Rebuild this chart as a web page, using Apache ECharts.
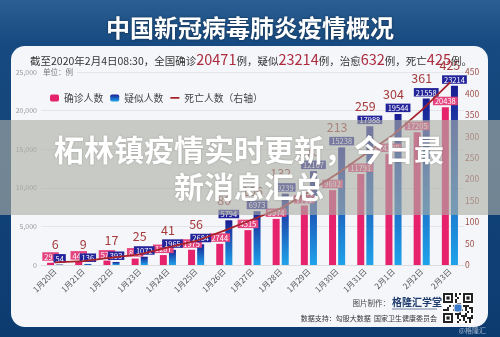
<!DOCTYPE html>
<html><head><meta charset="utf-8">
<script src="https://cdn.jsdelivr.net/npm/echarts@6/dist/echarts.min.js"></script>
<style>html,body{margin:0;padding:0;background:#0d3c71}#c{width:500px;height:337px}</style>
</head><body><div id="c"></div>
<script>
const categories = ['1月20日','1月21日','1月22日','1月23日','1月24日','1月25日','1月26日','1月27日','1月28日','1月29日','1月30日','1月31日','2月1日','2月2日','2月3日'];
const confirmed = [291,440,571,830,1287,1975,2744,4515,5974,7711,9692,11791,14380,17205,20438];
const suspected = [54,136,393,1072,1965,2684,5794,6973,9239,12167,15238,17988,19544,21558,23214];
const deaths = [6,9,17,25,41,56,80,106,132,170,213,259,304,361,425];
const seriesNames = ['确诊人数','疑似人数','死亡人数（右轴）'];
const leftAxisRange = {min:0, max:25000, interval:5000};
const rightAxisRange = {min:0, max:450, interval:50};
const titleText = '中国新冠病毒肺炎疫情概况';
const subtitleRich = '{n|截至2020年2月4日08:30，全国确诊}{r|20471}{n|例，疑似}{r|23214}{n|例，治愈}{r|632}{n|例，死亡}{r|425}{n|例。}';
const overlayLines = ['柘林镇疫情实时更新，今日最','新消息汇总'];
const unitText = '单位：例';
const creditMaker = '图片制作：';
const creditBrand = '格隆汇学堂';
const creditData = '数据支持：勾股大数据  国家卫生健康委员会';
const watermark = '@格隆汇';

const FF = '"Noto Sans CJK SC","Noto Sans",sans-serif';
const chart = echarts.init(document.getElementById('c'), null, {renderer:'canvas'});

// QR-like decoration
function qrGroup(x0, y0, size){
  const cells = 15, c = size / cells, kids = [];
  kids.push({type:'rect', shape:{x:x0-1,y:y0-1,width:size+2,height:size+2}, style:{fill:'#fff'}, z:5});
  const finder = (fx,fy)=>{
    kids.push({type:'rect', shape:{x:x0+fx*c,y:y0+fy*c,width:5*c,height:5*c}, style:{fill:'#222'}, z:6});
    kids.push({type:'rect', shape:{x:x0+(fx+1)*c,y:y0+(fy+1)*c,width:3*c,height:3*c}, style:{fill:'#fff'}, z:7});
    kids.push({type:'rect', shape:{x:x0+(fx+1.7)*c,y:y0+(fy+1.7)*c,width:1.6*c,height:1.6*c}, style:{fill:'#222'}, z:8});
  };
  finder(0,0); finder(10,0); finder(0,10);
  const pat = 'a7c3e19b5d2f8460';
  for(let r=0;r<cells;r++){for(let q=0;q<cells;q++){
    if((r<6&&q<6)||(r<6&&q>8)||(r>8&&q<6)) continue;
    const v = parseInt(pat[(r*7+q*3)%16],16);
    if(((v>>((r+q)%4))&1)===1) kids.push({type:'rect', shape:{x:x0+q*c,y:y0+r*c,width:c,height:c}, style:{fill:'#222'}, z:6});
  }}
  kids.push({type:'rect', shape:{x:x0+size/2-4,y:y0+size/2-4,width:8,height:8,r:2}, style:{fill:'#3a78c8',stroke:'#fff',lineWidth:1}, z:9});
  return kids;
}

const graphics = [
  {type:'rect', shape:{x:0,y:0,width:500,height:337}, z:-10,
   style:{fill:new echarts.graphic.LinearGradient(0,0,0,1,[{offset:0,color:'#2b5f93'},{offset:0.13,color:'#174a80'},{offset:1,color:'#0c3b70'}])}},
  {type:'rect', shape:{x:11,y:46,width:477,height:281,r:14}, z:-9, style:{fill:'#f4f6fa'}},
  {type:'text', z:10, style:{x:250,y:28,text:titleText,fill:'#fff',font:'bold 24px '+FF,align:'center',verticalAlign:'middle',textAlign:'center',textVerticalAlign:'middle',textShadowColor:'rgba(0,0,0,0.45)',textShadowBlur:3}},
  {type:'text', z:10, style:{x:251,y:59,text:subtitleRich,align:'center',verticalAlign:'middle',textAlign:'center',textVerticalAlign:'middle',
    rich:{n:{fontSize:10.5,fill:'#333',color:'#333',fontFamily:FF,verticalAlign:'bottom'}, r:{fontSize:14.5,fill:'#ab2a3d',color:'#ab2a3d',fontFamily:FF,verticalAlign:'bottom'}}}},
  {type:'text', z:10, style:{x:40,y:72,text:unitText,fill:'#777',font:'7.5px '+FF,align:'left',verticalAlign:'middle',textAlign:'left',textVerticalAlign:'middle',backgroundColor:'#f4f6fa',padding:[1,4,1,3]}},
  {type:'text', z:10, style:{x:390,y:303,text:creditMaker,fill:'#444',font:'7.5px '+FF,align:'right',verticalAlign:'middle',textAlign:'right',textVerticalAlign:'middle'}},
  {type:'text', z:10, style:{x:392,y:302,text:creditBrand,fill:'#1d3a6c',font:'bold 10px '+FF,align:'left',verticalAlign:'middle',textAlign:'left',textVerticalAlign:'middle'}},
  {type:'line', z:10, shape:{x1:392,y1:309,x2:437,y2:309}, style:{stroke:'#1d3a6c',lineWidth:0.6}},
  {type:'text', z:10, style:{x:437,y:318,text:creditData,fill:'#333',font:'7px '+FF,align:'right',verticalAlign:'middle',textAlign:'right',textVerticalAlign:'middle'}},
  ...qrGroup(443,293,30),
  {type:'text', z:10, style:{x:486,y:330,text:watermark,fill:'rgba(205,215,230,0.75)',font:'7px '+FF,align:'right',verticalAlign:'middle',textAlign:'right',textVerticalAlign:'middle'}},
  {type:'rect', shape:{x:0,y:120,width:500,height:95}, z:100, style:{fill:'rgba(172,175,165,0.62)'}},
  {type:'text', z:101, style:{x:249,y:150,text:overlayLines[0],fill:'#fff',font:'bold 30px '+FF,align:'center',verticalAlign:'middle',textAlign:'center',textVerticalAlign:'middle',textShadowColor:'rgba(0,0,0,0.25)',textShadowBlur:2}},
  {type:'text', z:101, style:{x:249,y:187,text:overlayLines[1],fill:'#fff',font:'bold 30px '+FF,align:'center',verticalAlign:'middle',textAlign:'center',textVerticalAlign:'middle',textShadowColor:'rgba(0,0,0,0.25)',textShadowBlur:2}}
];

// thin line legend icon (degenerate sub-paths only widen the bounding box)
const lineIcon = 'path://M0,0L0.01,0ZM0,2.5H10V4.5H0ZM0,7L0.01,7Z';

function buildOption(deathData){
  return {
    animation:false,
    textStyle:{fontFamily:FF},
    graphic:{elements:graphics},
    legend:{left:45, top:88, itemWidth:9, itemHeight:7, itemGap:7,
      textStyle:{fontSize:9.8,color:'#444',fontFamily:FF},
      data:[seriesNames[0], seriesNames[1], {name:seriesNames[2], icon:lineIcon}]},
    grid:{left:41, right:36, top:72, bottom:72},
    xAxis:{type:'category', data:categories,
      axisLine:{lineStyle:{color:'#dcdcdc'}}, axisTick:{show:false},
      axisLabel:{rotate:45, fontSize:8, color:'#555', margin:5, interval:0}},
    yAxis:[
      {type:'value', min:leftAxisRange.min, max:leftAxisRange.max, interval:leftAxisRange.interval,
       axisLine:{show:false}, axisTick:{show:false},
       axisLabel:{fontSize:7, color:'#999', margin:4},
       splitLine:{lineStyle:{color:'#e3e5ea'}}},
      {type:'value', min:rightAxisRange.min, max:rightAxisRange.max, interval:rightAxisRange.interval,
       axisLine:{show:false}, axisTick:{show:false},
       axisLabel:{fontSize:8.5, color:'#a0524a', margin:1},
       splitLine:{show:false}}
    ],
    series:[
      {name:seriesNames[0], type:'bar', data:confirmed, barWidth:7, barGap:'30%',
       itemStyle:{color:'#e6226d'},
       label:{show:true, position:'top', distance:2, fontSize:7.5, color:'#fff', backgroundColor:'#e5457e', padding:[1,2,0,2]}},
      {name:seriesNames[1], type:'bar', data:suspected, barWidth:7, barGap:'30%',
       itemStyle:{color:new echarts.graphic.LinearGradient(0,0,0,1,[{offset:0,color:'#1a1d92'},{offset:1,color:'#1fa3ea'}])},
       label:{show:true, position:'top', distance:2, fontSize:7.5, color:'#fff', backgroundColor:'#24249a', padding:[1,2,0,2]}},
      {name:seriesNames[2], type:'line', yAxisIndex:1, data:deathData, symbol:'circle', symbolSize:1.5, showSymbol:true, showAllSymbol:true, z:4,
       itemStyle:{color:'#a8222c'}, lineStyle:{color:'#a8222c', width:1.8},
       label:{show:true, position:'inside', fontSize:12.5, color:'#a63a3a'}}
    ]
  };
}

chart.setOption(buildOption(deaths));
// second pass: place death labels above both the line point and the suspected label box, using library coordinates
const deathItems = deaths.map((v,i)=>{
  const p = chart.convertToPixel({seriesIndex:2}, [i, v]);
  const s = chart.convertToPixel({seriesIndex:1}, [i, suspected[i]]);
  const target = Math.min(p[1] - 17, s[1] - 20);
  return {value:v, label:{offset:[0, target - p[1]]}};
});
chart.setOption(buildOption(deathItems));
</script></body></html>
